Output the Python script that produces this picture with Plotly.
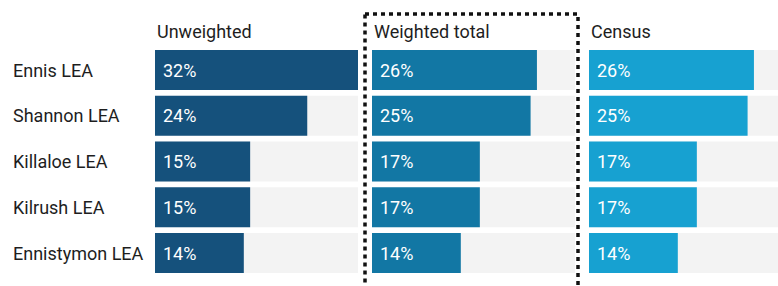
import plotly.graph_objects as go

# ---- data ----
areas = ["Ennis LEA", "Shannon LEA", "Killaloe LEA", "Kilrush LEA", "Ennistymon LEA"]
unweighted = [32, 24, 15, 15, 14]
weighted_total = [26, 25, 17, 17, 14]
census = [26, 25, 17, 17, 14]
panel_titles = ["Unweighted", "Weighted total", "Census"]
series = [unweighted, weighted_total, census]
scale_max = 32

# ---- styling / layout ----
W, H = 778, 286
colors = ["#15517c", "#1277a4", "#17a1d1"]
grey = "#f3f3f3"
font_family = "Roboto, 'Noto Sans', Arial, sans-serif"
text_col = "#1e1e1e"
fs = 18
panel_left = [155, 372, 589]
panel_w = 203
row0_px, pitch_px, bar_px = 70, 45.75, 40
bar_w = bar_px / pitch_px

y_top = -row0_px / pitch_px
y_bot = (H - row0_px) / pitch_px

fig = go.Figure()
shapes = []
annotations = []
axis_names = ["x", "x2", "x3"]

for k, (vals, title) in enumerate(zip(series, panel_titles)):
    l = panel_left[k]
    r = min(l + panel_w, W)
    xr = scale_max * (r - l) / panel_w
    ax = axis_names[k]
    ax_layout = "xaxis" if k == 0 else f"xaxis{k+1}"
    fig.update_layout({ax_layout: dict(domain=[l / W, r / W], range=[0, xr],
                                       visible=False, fixedrange=True, anchor="y")})
    fig.add_trace(go.Bar(x=vals, y=areas, orientation="h", xaxis=ax, yaxis="y",
                         marker=dict(color=colors[k], line=dict(width=0)),
                         width=bar_w, hoverinfo="skip", showlegend=False))
    for i, v in enumerate(vals):
        shapes.append(dict(type="rect", xref=f"{ax} domain", yref="y", layer="below",
                           x0=0, x1=1, y0=i - bar_w / 2, y1=i + bar_w / 2,
                           fillcolor=grey, line=dict(width=0)))
        annotations.append(dict(xref=ax, yref="y", x=0, y=areas[i], xshift=6,
                                xanchor="left", yanchor="middle", showarrow=False,
                                text=f"{v}%", font=dict(family=font_family, size=fs, color="white")))
    annotations.append(dict(xref="paper", yref="paper", x=l / W, y=1 - 32 / H,
                            xanchor="left", yanchor="middle", showarrow=False,
                            text=title, font=dict(family=font_family, size=fs, color=text_col)))

for i, a in enumerate(areas):
    annotations.append(dict(xref="paper", yref="y", x=11 / W, y=a, xanchor="left",
                            yanchor="middle", showarrow=False, text=a,
                            font=dict(family=font_family, size=fs, color=text_col)))

# dotted box around weighted total
shapes.append(dict(type="rect", xref="paper", yref="paper",
                   x0=365 / W, x1=578 / W, y0=1 - 14 / H, y1=-0.2,
                   line=dict(color="#111111", width=3.5, dash="4px,4px"),
                   fillcolor="rgba(0,0,0,0)"))

fig.update_layout(
    width=W, height=H, margin=dict(l=0, r=0, t=0, b=0),
    paper_bgcolor="white", plot_bgcolor="white",
    barmode="overlay",
    yaxis=dict(type="category", categoryorder="array", categoryarray=areas,
               range=[y_bot, y_top], visible=False, fixedrange=True, domain=[0, 1]),
    shapes=shapes, annotations=annotations,
    font=dict(family=font_family),
)

fig.write_html("out.html", config={"displayModeBar": False},
               post_script="document.body.style.margin='0';document.body.style.overflow='hidden';")
